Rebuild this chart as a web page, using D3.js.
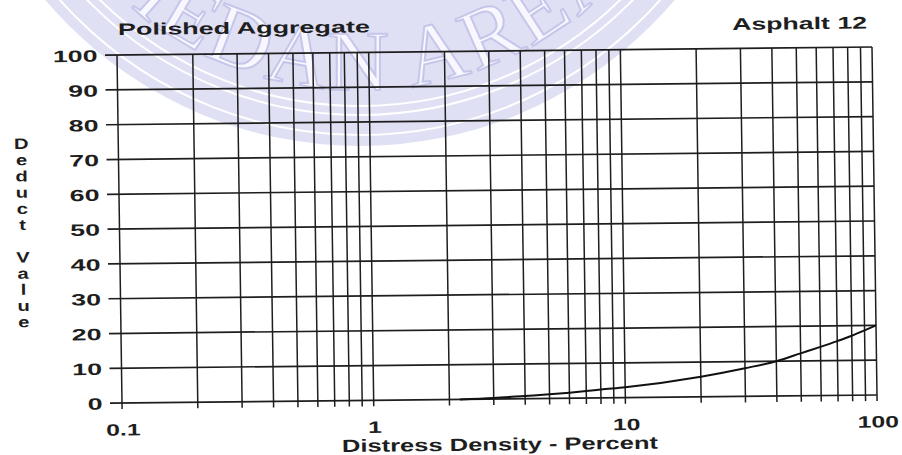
<!DOCTYPE html>
<html>
<head>
<meta charset="utf-8">
<script src="https://cdn.jsdelivr.net/npm/d3@7"></script>
<style>
  html, body { margin: 0; padding: 0; background: #ffffff; }
  svg { display: block; }
</style>
</head>
<body>
<svg id="chart" width="902" height="455"></svg>
<script>
// Deduct value curve for polished aggregate on asphalt pavement
const density = [2.2, 3, 4, 5, 6, 7, 8, 10, 20, 30, 40, 50, 60, 70, 80, 90, 100];
const deductValue = [0, 0.3, 0.8, 1.2, 1.6, 2.0, 2.4, 3.0, 5.8, 8.1, 10.0, 12.2, 14.0, 15.6, 17.1, 18.6, 20];

const xTickValues = [0.1, 1, 10, 100];
const xTickLabels = ["0.1", "1", "10", "100"];
const yTickValues = [0, 10, 20, 30, 40, 50, 60, 70, 80, 90, 100];
const xGridValues = [0.1, 0.2, 0.3, 0.4, 0.5, 0.6, 0.7, 0.8, 0.9,
                     1, 2, 3, 4, 5, 6, 7, 8, 9,
                     10, 20, 30, 40, 50, 60, 70, 80, 90, 100];

const titleLeft = "Polished Aggregate";
const titleRight = "Asphalt 12";
const xTitle = "Distress Density - Percent";
const yTitle = "Deduct Value";
const sealText = "MEDAN AREA";

const svg = d3.select("#chart");
const ink = "#1e1e1e";
const font = "'Liberation Sans', Arial, sans-serif";

// faint seal behind the chart
const seal = svg.append("g");
const sx = 360, sy = -266;
seal.append("circle").attr("cx", sx).attr("cy", sy).attr("r", 412).attr("fill", "#e0e0f5");
[372, 381, 401].forEach(r => {
  seal.append("circle").attr("cx", sx).attr("cy", sy).attr("r", r)
    .attr("fill", "none").attr("stroke", "#ffffff").attr("stroke-width", 2);
});
const sr = 356;
seal.append("path").attr("id", "sealArc")
  .attr("d", `M ${sx - sr} ${sy} A ${sr} ${sr} 0 0 0 ${sx + sr} ${sy}`)
  .attr("fill", "none");
seal.append("text")
  .attr("font-family", "'Liberation Serif', 'Times New Roman', serif")
  .attr("font-size", 86)
  .attr("letter-spacing", 3)
  .attr("fill", "#f7f7fd").attr("stroke", "#c6c6eb").attr("stroke-width", 2)
  .append("textPath").attr("href", "#sealArc")
  .attr("startOffset", "50%").attr("text-anchor", "middle")
  .text(sealText);

// chart group, slightly skewed like the printed sheet
const g = svg.append("g").attr("transform", "matrix(1,-0.0106,0.01437,1,-0.79,1.24)");

const x = d3.scaleLog().domain([0.1, 100]).range([117, 872]);
const y = d3.scaleLinear().domain([0, 100]).range([403, 55]);

// horizontal grid lines with short ticks on the left
g.append("g").selectAll("line").data(yTickValues).join("line")
  .attr("x1", 105).attr("x2", x(100))
  .attr("y1", d => y(d)).attr("y2", d => y(d))
  .attr("stroke", ink).attr("stroke-width", 1.7);

// vertical log grid lines with short ticks below
g.append("g").selectAll("line").data(xGridValues).join("line")
  .attr("x1", d => x(d)).attr("x2", d => x(d))
  .attr("y1", y(100)).attr("y2", y(0) + 6)
  .attr("stroke", ink).attr("stroke-width", 1.5);

// y tick labels
g.append("g").selectAll("g").data(yTickValues).join("g")
  .attr("transform", d => `translate(97.5,${y(d) + 6.5})`)
  .append("text")
  .attr("transform", "scale(1.62,1)")
  .attr("text-anchor", "end")
  .attr("font-family", font).attr("font-weight", "bold").attr("font-size", 16.5)
  .attr("fill", ink)
  .text(d => d);

// x tick labels
g.append("g").selectAll("g").data(xTickValues).join("g")
  .attr("transform", d => `translate(${x(d) + 1},435.5)`)
  .append("text")
  .attr("transform", "scale(1.5,1)")
  .attr("text-anchor", "middle")
  .attr("font-family", font).attr("font-weight", "bold").attr("font-size", 16.5)
  .attr("fill", ink)
  .text((d, i) => xTickLabels[i]);

// titles
g.append("text")
  .attr("x", 118.3).attr("y", 35)
  .attr("font-family", font).attr("font-weight", "bold").attr("font-size", 16.5)
  .attr("textLength", 252).attr("lengthAdjust", "spacingAndGlyphs")
  .attr("fill", ink).text(titleLeft);

g.append("text")
  .attr("x", 732.4).attr("y", 36.5)
  .attr("font-family", font).attr("font-weight", "bold").attr("font-size", 17)
  .attr("textLength", 135).attr("lengthAdjust", "spacingAndGlyphs")
  .attr("fill", ink).text(titleRight);

g.append("text")
  .attr("x", 336.3).attr("y", 454.4)
  .attr("font-family", font).attr("font-weight", "bold").attr("font-size", 17.5)
  .attr("textLength", 316).attr("lengthAdjust", "spacingAndGlyphs")
  .attr("fill", ink).text(xTitle);

// vertical stacked y-axis title
const yLetters = yTitle.split("").map((c, i) => ({ c, i })).filter(d => d.c !== " ");
g.append("g").selectAll("g").data(yLetters).join("g")
  .attr("transform", d => `translate(20,${148 + d.i * 16.2})`)
  .append("text")
  .attr("transform", "scale(1.35,1)")
  .attr("text-anchor", "middle")
  .attr("font-family", font).attr("font-weight", "bold").attr("font-size", 15)
  .attr("fill", ink)
  .text(d => d.c);

// deduct value curve
const line = d3.line()
  .x(d => x(d[0]))
  .y(d => y(d[1]))
  .curve(d3.curveMonotoneX);

g.append("path")
  .datum(density.map((d, i) => [d, deductValue[i]]))
  .attr("d", line)
  .attr("fill", "none").attr("stroke", "#111").attr("stroke-width", 2);
</script>
</body>
</html>
